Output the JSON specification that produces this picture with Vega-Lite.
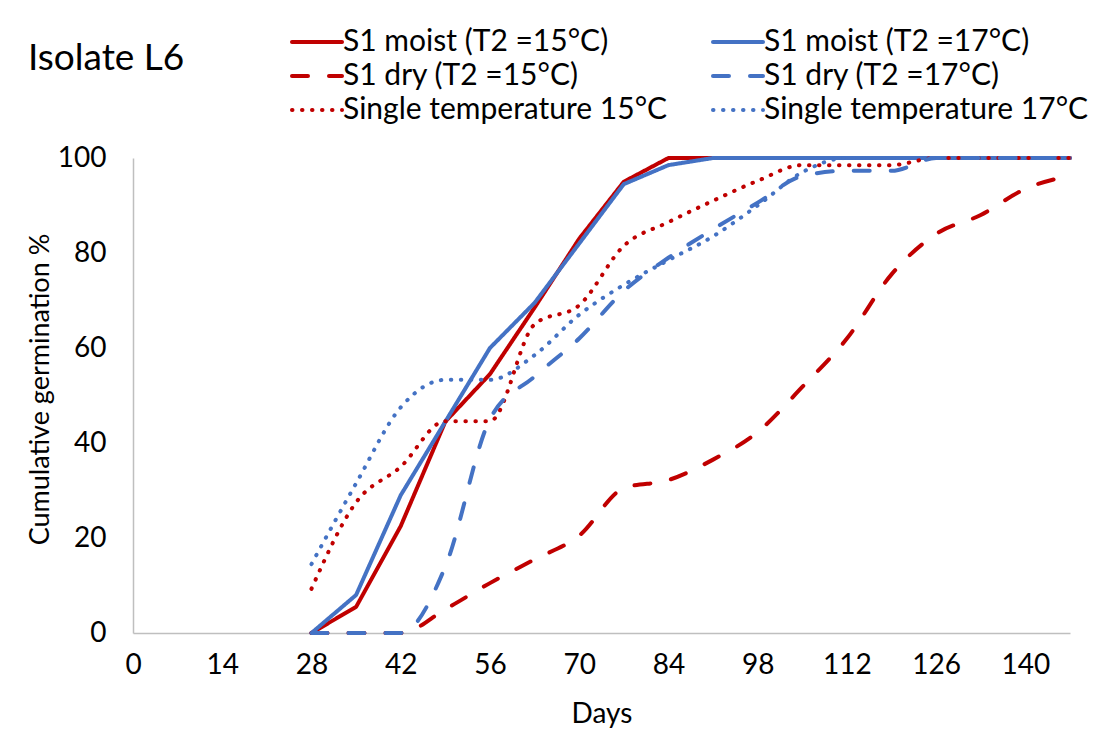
{
  "$schema": "https://vega.github.io/schema/vega-lite/v6.json",
  "autosize": "none",
  "padding": {"left": 133, "top": 158, "right": 35, "bottom": 98},
  "width": 937,
  "height": 475,
  "background": "white",
  "title": {"text": "Isolate L6", "anchor": "start", "frame": "group", "dx": -105, "font": "Lato", "fontSize": 37, "fontWeight": "normal", "color": "#000000", "offset": -53},
  "data": {"values": [
    {"day": 28, "series": "S1 moist (T2 =15°C)", "value": 0},
    {"day": 35, "series": "S1 moist (T2 =15°C)", "value": 5.5},
    {"day": 42, "series": "S1 moist (T2 =15°C)", "value": 22.5},
    {"day": 49, "series": "S1 moist (T2 =15°C)", "value": 44.5},
    {"day": 56, "series": "S1 moist (T2 =15°C)", "value": 54.5},
    {"day": 63, "series": "S1 moist (T2 =15°C)", "value": 68.5},
    {"day": 70, "series": "S1 moist (T2 =15°C)", "value": 83},
    {"day": 77, "series": "S1 moist (T2 =15°C)", "value": 95},
    {"day": 84, "series": "S1 moist (T2 =15°C)", "value": 100},
    {"day": 91, "series": "S1 moist (T2 =15°C)", "value": 100},
    {"day": 98, "series": "S1 moist (T2 =15°C)", "value": 100},
    {"day": 105, "series": "S1 moist (T2 =15°C)", "value": 100},
    {"day": 112, "series": "S1 moist (T2 =15°C)", "value": 100},
    {"day": 119, "series": "S1 moist (T2 =15°C)", "value": 100},
    {"day": 126, "series": "S1 moist (T2 =15°C)", "value": 100},
    {"day": 133, "series": "S1 moist (T2 =15°C)", "value": 100},
    {"day": 140, "series": "S1 moist (T2 =15°C)", "value": 100},
    {"day": 147, "series": "S1 moist (T2 =15°C)", "value": 100},

    {"day": 28, "series": "S1 dry (T2 =15°C)", "value": 0},
    {"day": 35, "series": "S1 dry (T2 =15°C)", "value": 0},
    {"day": 42, "series": "S1 dry (T2 =15°C)", "value": 0},
    {"day": 49, "series": "S1 dry (T2 =15°C)", "value": 5},
    {"day": 56, "series": "S1 dry (T2 =15°C)", "value": 10.5},
    {"day": 63, "series": "S1 dry (T2 =15°C)", "value": 15.5},
    {"day": 70, "series": "S1 dry (T2 =15°C)", "value": 20.5},
    {"day": 77, "series": "S1 dry (T2 =15°C)", "value": 30.5},
    {"day": 84, "series": "S1 dry (T2 =15°C)", "value": 32.2},
    {"day": 91, "series": "S1 dry (T2 =15°C)", "value": 36.5},
    {"day": 98, "series": "S1 dry (T2 =15°C)", "value": 42.3},
    {"day": 105, "series": "S1 dry (T2 =15°C)", "value": 51.8},
    {"day": 112, "series": "S1 dry (T2 =15°C)", "value": 62},
    {"day": 119, "series": "S1 dry (T2 =15°C)", "value": 75.5},
    {"day": 126, "series": "S1 dry (T2 =15°C)", "value": 84},
    {"day": 133, "series": "S1 dry (T2 =15°C)", "value": 88},
    {"day": 140, "series": "S1 dry (T2 =15°C)", "value": 93.5},
    {"day": 147, "series": "S1 dry (T2 =15°C)", "value": 96.3},

    {"day": 28, "series": "Single temperature 15°C", "value": 9.3},
    {"day": 35, "series": "Single temperature 15°C", "value": 27.5},
    {"day": 42, "series": "Single temperature 15°C", "value": 35},
    {"day": 49, "series": "Single temperature 15°C", "value": 44.6},
    {"day": 56, "series": "Single temperature 15°C", "value": 44.6},
    {"day": 63, "series": "Single temperature 15°C", "value": 65},
    {"day": 70, "series": "Single temperature 15°C", "value": 69},
    {"day": 77, "series": "Single temperature 15°C", "value": 81.5},
    {"day": 84, "series": "Single temperature 15°C", "value": 86.5},
    {"day": 91, "series": "Single temperature 15°C", "value": 91},
    {"day": 98, "series": "Single temperature 15°C", "value": 95.2},
    {"day": 105, "series": "Single temperature 15°C", "value": 98.5},
    {"day": 112, "series": "Single temperature 15°C", "value": 98.5},
    {"day": 119, "series": "Single temperature 15°C", "value": 98.5},
    {"day": 126, "series": "Single temperature 15°C", "value": 100},
    {"day": 133, "series": "Single temperature 15°C", "value": 100},
    {"day": 140, "series": "Single temperature 15°C", "value": 100},
    {"day": 147, "series": "Single temperature 15°C", "value": 100},

    {"day": 28, "series": "S1 moist (T2 =17°C)", "value": 0},
    {"day": 35, "series": "S1 moist (T2 =17°C)", "value": 8},
    {"day": 42, "series": "S1 moist (T2 =17°C)", "value": 29},
    {"day": 49, "series": "S1 moist (T2 =17°C)", "value": 44.5},
    {"day": 56, "series": "S1 moist (T2 =17°C)", "value": 60},
    {"day": 63, "series": "S1 moist (T2 =17°C)", "value": 69.5},
    {"day": 70, "series": "S1 moist (T2 =17°C)", "value": 82},
    {"day": 77, "series": "S1 moist (T2 =17°C)", "value": 94.5},
    {"day": 84, "series": "S1 moist (T2 =17°C)", "value": 98.5},
    {"day": 91, "series": "S1 moist (T2 =17°C)", "value": 100},
    {"day": 98, "series": "S1 moist (T2 =17°C)", "value": 100},
    {"day": 105, "series": "S1 moist (T2 =17°C)", "value": 100},
    {"day": 112, "series": "S1 moist (T2 =17°C)", "value": 100},
    {"day": 119, "series": "S1 moist (T2 =17°C)", "value": 100},
    {"day": 126, "series": "S1 moist (T2 =17°C)", "value": 100},
    {"day": 133, "series": "S1 moist (T2 =17°C)", "value": 100},
    {"day": 140, "series": "S1 moist (T2 =17°C)", "value": 100},
    {"day": 147, "series": "S1 moist (T2 =17°C)", "value": 100},

    {"day": 28, "series": "S1 dry (T2 =17°C)", "value": 0},
    {"day": 35, "series": "S1 dry (T2 =17°C)", "value": 0},
    {"day": 42, "series": "S1 dry (T2 =17°C)", "value": 0},
    {"day": 49, "series": "S1 dry (T2 =17°C)", "value": 14},
    {"day": 56, "series": "S1 dry (T2 =17°C)", "value": 45},
    {"day": 63, "series": "S1 dry (T2 =17°C)", "value": 54},
    {"day": 70, "series": "S1 dry (T2 =17°C)", "value": 62},
    {"day": 77, "series": "S1 dry (T2 =17°C)", "value": 72},
    {"day": 84, "series": "S1 dry (T2 =17°C)", "value": 79},
    {"day": 91, "series": "S1 dry (T2 =17°C)", "value": 85},
    {"day": 98, "series": "S1 dry (T2 =17°C)", "value": 90.6},
    {"day": 105, "series": "S1 dry (T2 =17°C)", "value": 96.2},
    {"day": 112, "series": "S1 dry (T2 =17°C)", "value": 97.3},
    {"day": 119, "series": "S1 dry (T2 =17°C)", "value": 97.3},
    {"day": 126, "series": "S1 dry (T2 =17°C)", "value": 100},
    {"day": 133, "series": "S1 dry (T2 =17°C)", "value": 100},
    {"day": 140, "series": "S1 dry (T2 =17°C)", "value": 100},
    {"day": 147, "series": "S1 dry (T2 =17°C)", "value": 100},

    {"day": 28, "series": "Single temperature 17°C", "value": 14.5},
    {"day": 35, "series": "Single temperature 17°C", "value": 31.5},
    {"day": 42, "series": "Single temperature 17°C", "value": 47.5},
    {"day": 49, "series": "Single temperature 17°C", "value": 53.3},
    {"day": 56, "series": "Single temperature 17°C", "value": 53.3},
    {"day": 63, "series": "Single temperature 17°C", "value": 58.5},
    {"day": 70, "series": "Single temperature 17°C", "value": 67},
    {"day": 77, "series": "Single temperature 17°C", "value": 73.3},
    {"day": 84, "series": "Single temperature 17°C", "value": 78.5},
    {"day": 91, "series": "Single temperature 17°C", "value": 83.5},
    {"day": 98, "series": "Single temperature 17°C", "value": 90},
    {"day": 105, "series": "Single temperature 17°C", "value": 97},
    {"day": 112, "series": "Single temperature 17°C", "value": 100},
    {"day": 119, "series": "Single temperature 17°C", "value": 100},
    {"day": 126, "series": "Single temperature 17°C", "value": 100},
    {"day": 133, "series": "Single temperature 17°C", "value": 100},
    {"day": 140, "series": "Single temperature 17°C", "value": 100},
    {"day": 147, "series": "Single temperature 17°C", "value": 100}
  ]},
  "encoding": {
    "x": {"field": "day", "type": "quantitative",
      "scale": {"domain": [0, 147], "nice": false, "zero": true},
      "axis": {"values": [0, 14, 28, 42, 56, 70, 84, 98, 112, 126, 140], "title": "Days", "grid": false, "ticks": false,
        "domainColor": "#BFBFBF", "domainWidth": 1.5, "labelFont": "Lato", "labelFontSize": 28, "labelColor": "#000000",
        "labelBaseline": "middle", "labelPadding": 32, "labelFlush": false, "labelOverlap": false,
        "titleFont": "Lato", "titleFontSize": 28, "titleFontWeight": "normal", "titleColor": "#000000",
        "titleBaseline": "middle", "titleY": 81, "titleX": 468.5, "titleAlign": "center"}},
    "y": {"field": "value", "type": "quantitative",
      "scale": {"domain": [0, 100], "nice": false},
      "axis": {"values": [0, 20, 40, 60, 80, 100], "title": "Cumulative germination %", "grid": false, "ticks": false,
        "domainColor": "#BFBFBF", "domainWidth": 1.5, "labelFont": "Lato", "labelFontSize": 28, "labelColor": "#000000",
        "labelPadding": 27, "labelBaseline": "middle",
        "titleFont": "Lato", "titleFontSize": 27, "titleFontWeight": "normal", "titleColor": "#000000",
        "titleAngle": -90, "titleBaseline": "middle", "titleAlign": "center", "titleX": -93, "titleY": 231}},
    "color": {"field": "series", "type": "nominal",
      "scale": {"domain": ["S1 moist (T2 =15°C)", "S1 dry (T2 =15°C)", "Single temperature 15°C", "S1 moist (T2 =17°C)", "S1 dry (T2 =17°C)", "Single temperature 17°C"],
        "range": ["#C00000", "#C00000", "#C00000", "#4472C4", "#4472C4", "#4472C4"]},
      "legend": {"orient": "none", "legendX": 167, "legendY": -133, "columns": 2, "title": null,
        "symbolType": "M-1.667,0H1.667", "symbolSize": 900, "symbolStrokeWidth": 4,
        "labelFont": "Lato", "labelFontSize": 30, "labelColor": "#000000", "labelOffset": 9, "labelLimit": 500,
        "columnPadding": 36, "rowPadding": 2,
        "encode": {"symbols": {"update": {"strokeCap": {"value": "round"}}}}}},
    "strokeDash": {"field": "series", "type": "nominal",
      "scale": {"domain": ["S1 moist (T2 =15°C)", "S1 dry (T2 =15°C)", "Single temperature 15°C", "S1 moist (T2 =17°C)", "S1 dry (T2 =17°C)", "Single temperature 17°C"],
        "range": [[1, 0], [16, 21], [0.5, 9.5], [1, 0], [16, 21], [0.5, 9.5]]}}
  },
  "layer": [
    {"transform": [{"filter": "indexof(datum.series, 'moist') >= 0"}],
     "mark": {"type": "line", "strokeWidth": 4, "strokeCap": "round", "strokeJoin": "round", "interpolate": "linear"}},
    {"transform": [{"filter": "indexof(datum.series, 'moist') < 0"}],
     "mark": {"type": "line", "strokeWidth": 4, "strokeCap": "round", "strokeJoin": "round", "interpolate": "monotone"}}
  ],
  "config": {"view": {"stroke": null}}
}
